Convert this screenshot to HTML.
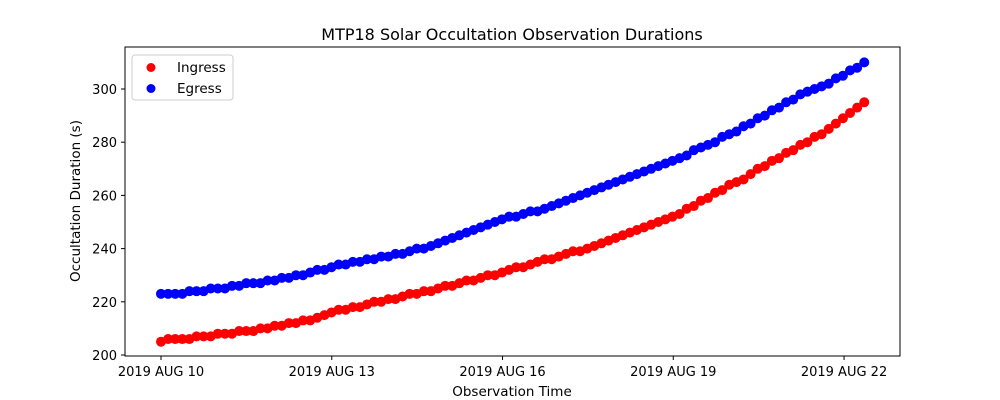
<!DOCTYPE html>
<html><head><meta charset="utf-8"><style>
html,body{margin:0;padding:0;background:#fff;}
svg{display:block;font-family:"DejaVu Sans","Liberation Sans",sans-serif;}
</style></head><body>
<svg id="chart" width="1000" height="400" viewBox="0 0 1000 400">
<rect width="1000" height="400" fill="#fff"/>
<text x="512" y="40" text-anchor="middle" font-size="16">MTP18 Solar Occultation Observation Durations</text>
<g id="marks"></g>
<g id="axes"></g>
<rect x="125" y="47" width="775" height="309" fill="none" stroke="#000" stroke-width="1"/>
<text x="512" y="396" text-anchor="middle" font-size="13.5">Observation Time</text>
<text transform="translate(80,201) rotate(-90)" text-anchor="middle" font-size="13.5">Occultation Duration (s)</text>
<g>
<rect x="132" y="55" width="101" height="45" rx="3" fill="#fff" stroke="#ccc"/>
<circle cx="151" cy="67.5" r="4.5" fill="red"/>
<text x="177" y="72" font-size="13.5">Ingress</text>
<circle cx="151" cy="88.5" r="4.5" fill="blue"/>
<text x="177" y="93" font-size="13.5">Egress</text>
</g>
</svg>
<script>
const ingress=[205,206,206,206,206,207,207,207,208,208,208,209,209,
209,210,210,211,211,212,212,213,213,214,215,216,
217,217,218,218,219,220,220,221,221,
222,223,223,224,224,225,226,226,227,228,228,229,230,230,231,
232,233,233,234,235,236,236,237,238,239,239,240,241,242,
243,244,245,246,247,248,249,250,251,252,253,255,256,258,
259,261,262,264,265,266,268,
270,271,273,274,276,277,279,
280,282,283,285,287,289,
291,293,295];
const egress=[223,223,223,223,224,224,224,225,225,225,226,226,227,
227,227,228,228,229,229,230,230,231,232,232,233,
234,234,235,235,236,236,237,237,238,238,
239,240,240,241,242,243,244,245,246,247,248,249,250,251,
252,252,253,254,254,255,256,257,258,259,260,261,262,263,
264,265,266,267,268,269,270,271,272,273,274,275,277,278,
279,280,282,283,284,286,287,
289,290,292,293,295,296,298,
299,300,301,302,304,305,
307,308,310];
const startDay=0;       // days after 2019 AUG 10 00:00
const stepDays=0.1248;  // observation cadence
const yTicks=[200,220,240,260,280,300];
const xTickDays=[0,3,6,9,12];
const xTickLabels=["2019 AUG 10","2019 AUG 13","2019 AUG 16","2019 AUG 19","2019 AUG 22"];

const NS="http://www.w3.org/2000/svg";
const xs=d=>161+d*56.92;
const ys=v=>355-(v-200)*2.66;
const marks=document.getElementById('marks');
const axes=document.getElementById('axes');
function series(vals,color,name){
  vals.forEach((v,i)=>{
    const c=document.createElementNS(NS,'circle');
    c.setAttribute('cx',xs(startDay+i*stepDays));
    c.setAttribute('cy',ys(v));
    c.setAttribute('r',5);
    c.setAttribute('fill',color);
    
    
    marks.appendChild(c);
  });
}
series(ingress,'red','ingress');
series(egress,'blue','egress');
yTicks.forEach(t=>{
  const y=ys(t);
  const l=document.createElementNS(NS,'line');
  l.setAttribute('x1',121);l.setAttribute('x2',125);l.setAttribute('y1',y);l.setAttribute('y2',y);l.setAttribute('stroke','#000');
  
  
  axes.appendChild(l);
  const tx=document.createElementNS(NS,'text');
  tx.setAttribute('x',117);tx.setAttribute('y',y+5);tx.setAttribute('text-anchor','end');tx.setAttribute('font-size','13');
  tx.textContent=t;
  
  
  axes.appendChild(tx);
});
xTickDays.forEach((d,i)=>{
  const x=xs(d);
  const l=document.createElementNS(NS,'line');
  l.setAttribute('x1',x);l.setAttribute('x2',x);l.setAttribute('y1',356);l.setAttribute('y2',360);l.setAttribute('stroke','#000');
  
  
  axes.appendChild(l);
  const tx=document.createElementNS(NS,'text');
  tx.setAttribute('x',x);tx.setAttribute('y',376);tx.setAttribute('text-anchor','middle');tx.setAttribute('font-size','13');
  tx.textContent=xTickLabels[i];
  
  
  axes.appendChild(tx);
});
</script>
</body></html>
